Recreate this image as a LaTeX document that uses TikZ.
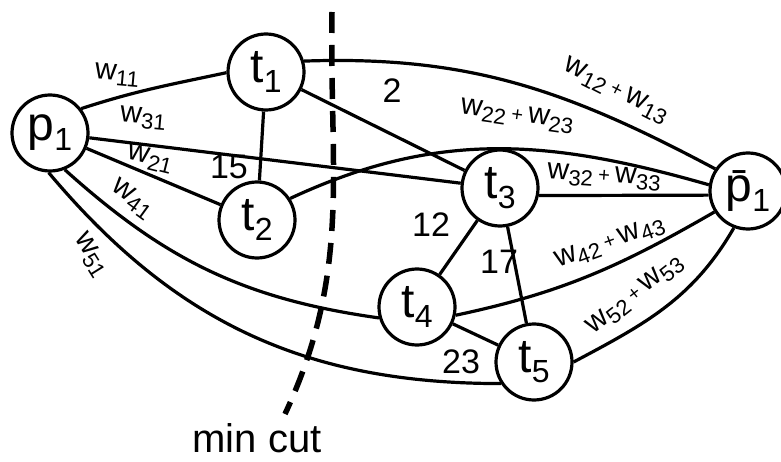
\documentclass[tikz,border=0pt]{standalone}
\usepackage{fontspec}
\setmainfont{Liberation Sans}
\usetikzlibrary{positioning}
\newcommand{\wsub}[1]{w\raisebox{-0.35ex}{\fontsize{22}{24}\selectfont #1}}
\newcommand{\tsub}[2]{#1\raisebox{-0.4ex}{\fontsize{32}{34}\selectfont #2}}
\newcommand{\pls}{\,{\fontsize{20}{22}\selectfont +}\,}

\begin{document}
\begin{tikzpicture}[x=1pt, y=1pt, line width=3.2pt,
  vertex/.style={draw, circle, minimum size=76pt, inner sep=0pt, font=\fontsize{48}{52}\selectfont},
  wlbl/.style={font=\fontsize{30}{32}\selectfont, inner sep=1pt},
  numlbl/.style={font=\fontsize{34}{36}\selectfont, inner sep=1pt},
  cutline/.style={line width=5.5pt, dash pattern=on 21pt off 12pt}]
  \useasboundingbox (0,0) rectangle (781,461);

  % vertices
  \node[vertex] (p1) at (50,328) {\tsub{p}{1}};
  \node[vertex] (t1) at (266,389) {\tsub{t}{1}};
  \node[vertex] (t2) at (257,241) {\tsub{t}{2}};
  \node[vertex] (t3) at (500,273) {\tsub{t}{3}};
  \node[vertex] (pb) at (748,270) {\tsub{\={p}}{1}};
  \node[vertex] (t4) at (417,154) {\tsub{t}{4}};
  \node[vertex] (t5) at (534,99) {\tsub{t}{5}};

  % straight edges
  \foreach \a/\b in {p1/t2, p1/t3, t1/t2, t1/t3, t3/t4, t3/t5, t4/t5}
    \draw (\a) -- (\b);
  \draw (t3.-11) -- (pb.186);

  % curved edges
  \draw (p1.38) to[out=18, in=192] (t1.181);
  \draw (p1.-68) to[out=-42, in=172] (t4.196);
  \draw (p1.-92) to[out=-50, in=180] (t5.213);
  \draw (t1.16) to[out=2, in=152] (pb.146);
  \draw (t2.33) to[out=25, in=164] (pb.171);
  \draw (t4.-12) to[out=12, in=-150] (pb.212);
  \draw (t5.0) to[out=28, in=-120] (pb.249);

  % edge weights
  \node[wlbl, rotate=-5] (lw11) at (117,386) {\wsub{11}};
  \node[wlbl, rotate=-5] (lw31) at (143,343) {\wsub{31}};
  \node[wlbl, rotate=-14] (lw21) at (150,302) {\wsub{21}};
  \node[wlbl, rotate=-36] (lw41) at (132,262) {\wsub{41}};
  \node[wlbl, rotate=-58] (lw51) at (91,206) {\wsub{51}};
  \node[wlbl, rotate=-27] (lw1213) at (616,370) {\wsub{12}\pls\wsub{13}};
  \node[wlbl, rotate=-8] (lw2223) at (517,345) {\wsub{22}\pls\wsub{23}};
  \node[wlbl, rotate=-4] (lw3233) at (604,284) {\wsub{32}\pls\wsub{33}};
  \node[wlbl, rotate=20] (lw4243) at (610,218) {\wsub{42}\pls\wsub{43}};
  \node[wlbl, rotate=38] (lw5253) at (635,166) {\wsub{52}\pls\wsub{53}};
  \node[numlbl] (l15) at (229,294) {15};
  \node[numlbl] (l2) at (392,370) {2};
  \node[numlbl] (l12) at (431,236) {12};
  \node[numlbl] (l17) at (499,199) {17};
  \node[numlbl] (l23) at (461,99) {23};

  % min cut
  \coordinate (cuttop) at (332,449);
  \coordinate (cutbot) at (285,47);
  \draw[cutline] (cuttop) to[out=-91, in=65] (cutbot);
  \node[font=\fontsize{40}{44}\selectfont] (mincut) at (257,23) {min cut};
\end{tikzpicture}
\end{document}
